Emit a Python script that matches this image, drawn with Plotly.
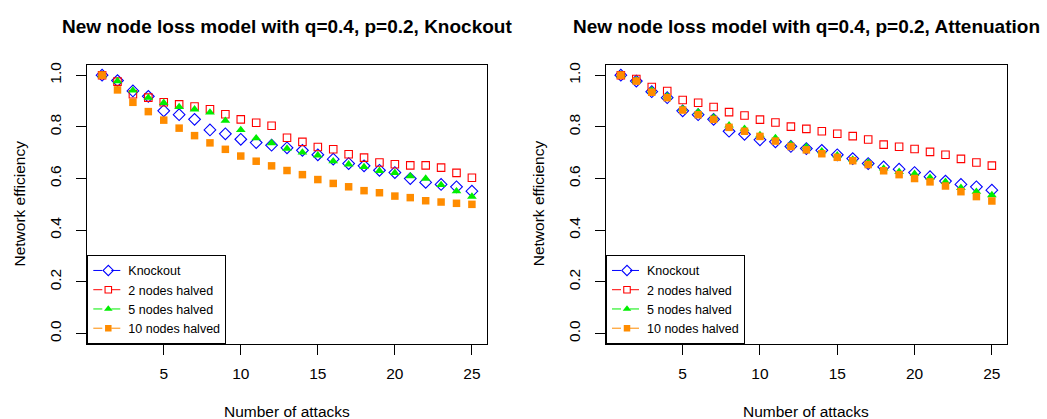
import plotly.graph_objects as go

W, H = 1047, 419

attacks = list(range(1, 26))

# Left panel: Knockout
ko_knock = [1.0, 0.979, 0.939, 0.918, 0.862, 0.847, 0.829, 0.788, 0.773, 0.752, 0.739, 0.729, 0.719,
            0.709, 0.692, 0.675, 0.658, 0.649, 0.632, 0.623, 0.600, 0.585, 0.577, 0.568, 0.551]
ko_two = [1.0, 0.975, 0.926, 0.913, 0.895, 0.887, 0.879, 0.868, 0.849, 0.829, 0.816, 0.804, 0.758,
          0.742, 0.722, 0.713, 0.694, 0.681, 0.662, 0.655, 0.651, 0.651, 0.642, 0.622, 0.603]
ko_five = [1.0, 0.977, 0.941, 0.913, 0.893, 0.877, 0.868, 0.856, 0.824, 0.788, 0.756, 0.737, 0.716,
           0.701, 0.690, 0.667, 0.655, 0.645, 0.630, 0.622, 0.609, 0.600, 0.575, 0.551, 0.530]
ko_ten = [1.0, 0.943, 0.895, 0.859, 0.826, 0.795, 0.766, 0.738, 0.713, 0.687, 0.667, 0.649, 0.631,
          0.615, 0.596, 0.581, 0.568, 0.553, 0.545, 0.532, 0.526, 0.514, 0.509, 0.504, 0.500]

# Right panel: Attenuation
at_knock = [1.0, 0.977, 0.936, 0.913, 0.862, 0.847, 0.829, 0.783, 0.771, 0.750, 0.742, 0.724, 0.716,
            0.709, 0.692, 0.677, 0.658, 0.645, 0.636, 0.623, 0.607, 0.590, 0.577, 0.568, 0.555]
at_two = [1.0, 0.985, 0.954, 0.939, 0.904, 0.893, 0.877, 0.857, 0.844, 0.828, 0.817, 0.801, 0.792,
          0.783, 0.773, 0.764, 0.751, 0.731, 0.723, 0.714, 0.703, 0.692, 0.676, 0.662, 0.650]
at_five = [1.0, 0.980, 0.941, 0.918, 0.870, 0.857, 0.836, 0.806, 0.793, 0.768, 0.757, 0.732, 0.722,
           0.706, 0.690, 0.674, 0.662, 0.639, 0.626, 0.618, 0.603, 0.587, 0.564, 0.549, 0.536]
at_ten = [1.0, 0.977, 0.934, 0.913, 0.865, 0.847, 0.829, 0.798, 0.783, 0.763, 0.745, 0.724, 0.711,
          0.696, 0.682, 0.669, 0.654, 0.630, 0.615, 0.600, 0.587, 0.571, 0.549, 0.530, 0.513]

series_names = ["Knockout", "2 nodes halved", "5 nodes halved", "10 nodes halved"]
x_ticks = [5, 10, 15, 20, 25]
y_ticks = [0.0, 0.2, 0.4, 0.6, 0.8, 1.0]
titles = ["New node loss model with q=0.4, p=0.2, Knockout",
          "New node loss model with q=0.4, p=0.2, Attenuation"]

styles = [
    dict(symbol="diamond-open", color="#0000FF", size=9, lw=1.1),
    dict(symbol="square-open", color="#FF0000", size=7.5, lw=1.1),
    dict(symbol="triangle-up", color="#00EE00", size=8.5, lw=0),
    dict(symbol="square", color="#FF8C00", size=7.5, lw=0),
]

def px(x):
    return x / W

def py(y):
    return 1 - y / H

FONT = "Liberation Sans, Arial, sans-serif"

fig = go.Figure()

panels = [
    ([ko_knock, ko_two, ko_five, ko_ten], "x", "y", "legend"),
    ([at_knock, at_two, at_five, at_ten], "x2", "y2", "legend2"),
]

for data, xa, ya, leg in panels:
    for name, vals, st in zip(series_names, data, styles):
        fig.add_trace(go.Scatter(
            x=attacks, y=vals, mode="markers", xaxis=xa, yaxis=ya, showlegend=False,
            marker=dict(symbol=st["symbol"], color=st["color"], size=st["size"],
                        line=dict(color=st["color"], width=st["lw"])),
            cliponaxis=False,
        ))
    for name, st in zip(series_names, styles):
        fig.add_trace(go.Scatter(
            x=[None], y=[None], mode="lines+markers", name=name, xaxis=xa, yaxis=ya,
            legend=leg, showlegend=True,
            line=dict(color=st["color"], width=1, dash="dash"),
            marker=dict(symbol=st["symbol"], color=st["color"], size=st["size"] - 1,
                        line=dict(color=st["color"], width=st["lw"])),
        ))

box_left = [87.3, 606.0]
box_right = [486.7, 1006.7]
box_top, box_bottom = 62.3, 343.3

axis_common = dict(showline=True, mirror=True, linecolor="black", linewidth=1,
                   showgrid=False, zeroline=False, ticks="outside", ticklen=10,
                   tickcolor="black", tickwidth=1,
                   tickfont=dict(family=FONT, size=15.5, color="black"))

xaxis_common = dict(range=[0.04, 25.96], tickvals=x_ticks, ticklabelstandoff=6, **axis_common)
yaxis_common = dict(domain=[py(box_bottom), py(box_top)], range=[-0.04, 1.04],
                    tickvals=y_ticks, tickformat=".1f", tickangle=-90,
                    ticklabelstandoff=9, **axis_common)

legend_common = dict(y=py(box_bottom), xanchor="left", yanchor="bottom",
                     bordercolor="black", borderwidth=1, bgcolor="white",
                     font=dict(family=FONT, size=12.5, color="black"), tracegroupgap=0,
                     itemwidth=30)

fig.update_layout(
    width=W, height=H,
    margin=dict(l=0, r=0, t=0, b=0),
    paper_bgcolor="white", plot_bgcolor="white",
    xaxis=dict(domain=[px(box_left[0]), px(box_right[0])], anchor="y", **xaxis_common),
    yaxis=dict(anchor="x", **yaxis_common),
    xaxis2=dict(domain=[px(box_left[1]), px(box_right[1])], anchor="y2", **xaxis_common),
    yaxis2=dict(anchor="x2", **yaxis_common),
    legend=dict(x=px(box_left[0]), **legend_common),
    legend2=dict(x=px(box_left[1]), **legend_common),
    showlegend=True,
)

annotations = []
for i in range(2):
    cx = (box_left[i] + box_right[i]) / 2
    annotations.append(dict(text=titles[i], x=px(cx), y=py(23.5), xref="paper", yref="paper",
                            xanchor="center", yanchor="middle", showarrow=False,
                            font=dict(family=FONT, size=19, color="black", weight="bold")))
    annotations.append(dict(text="Number of attacks", x=px(cx), y=py(411.5), xref="paper", yref="paper",
                            xanchor="center", yanchor="middle", showarrow=False,
                            font=dict(family=FONT, size=15.5, color="black")))
    annotations.append(dict(text="Network efficiency", x=px(box_left[i] - 67.3), y=py(202),
                            xref="paper", yref="paper", xanchor="center", yanchor="middle",
                            textangle=-90, showarrow=False,
                            font=dict(family=FONT, size=15.5, color="black")))
fig.update_layout(annotations=annotations)

fig.write_html("out.html")
